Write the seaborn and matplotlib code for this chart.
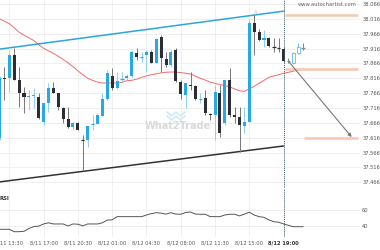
import numpy as np
import pandas as pd
import matplotlib
matplotlib.use("Agg")
import matplotlib.pyplot as plt
import seaborn as sns

# ---------------- data ----------------
opens = [37.615, 37.817, 37.817, 37.894, 37.810, 37.766, 37.753, 37.756, 37.753, 37.669,
         37.733, 37.783, 37.766, 37.716, 37.679, 37.652, 37.665, 37.608, 37.608, 37.660,
         37.662, 37.689, 37.746, 37.824, 37.783, 37.812, 37.817, 37.824, 37.901, 37.886,
         37.894, 37.904, 37.867, 37.955, 37.881, 37.861, 37.911, 37.803, 37.760, 37.793,
         37.790, 37.744, 37.750, 37.696, 37.692, 37.766, 37.665, 37.810, 37.692, 37.686,
         37.655, 37.669, 38.002, 37.972, 37.945, 37.951, 37.921, 37.918, 37.914, 37.874,
         37.867, 37.901, 37.918]
highs = [37.824, 37.854, 37.911, 37.918, 37.854, 37.787, 37.776, 37.783, 37.766, 37.736,
         37.800, 37.803, 37.766, 37.719, 37.719, 37.669, 37.669, 37.625, 37.655, 37.692,
         37.699, 37.766, 37.844, 37.851, 37.837, 37.837, 37.830, 37.911, 37.918, 37.904,
         37.911, 37.911, 37.951, 37.962, 37.904, 37.911, 37.918, 37.810, 37.800, 37.837,
         37.793, 37.766, 37.776, 37.699, 37.793, 37.793, 37.810, 37.851, 37.719, 37.719,
         37.719, 38.016, 38.029, 37.982, 37.978, 37.955, 37.951, 37.951, 37.921, 37.884,
         37.904, 37.935, 37.935]
lows = [37.608, 37.743, 37.770, 37.810, 37.719, 37.699, 37.709, 37.716, 37.679, 37.659,
        37.702, 37.766, 37.709, 37.665, 37.649, 37.642, 37.642, 37.507, 37.585, 37.642,
        37.662, 37.689, 37.743, 37.776, 37.780, 37.803, 37.810, 37.820, 37.877, 37.871,
        37.837, 37.867, 37.867, 37.837, 37.854, 37.854, 37.803, 37.746, 37.716, 37.776,
        37.743, 37.733, 37.692, 37.675, 37.608, 37.618, 37.659, 37.686, 37.665, 37.568,
        37.632, 37.669, 37.894, 37.941, 37.921, 37.921, 37.904, 37.904, 37.871, 37.867,
        37.864, 37.898, 37.911]
closes = [37.817, 37.813, 37.894, 37.810, 37.766, 37.753, 37.756, 37.760, 37.682, 37.733,
          37.783, 37.766, 37.719, 37.679, 37.652, 37.665, 37.642, 37.606, 37.655, 37.662,
          37.692, 37.746, 37.834, 37.783, 37.807, 37.813, 37.824, 37.904, 37.888, 37.888,
          37.904, 37.867, 37.948, 37.884, 37.861, 37.904, 37.807, 37.763, 37.800, 37.790,
          37.746, 37.746, 37.699, 37.692, 37.770, 37.632, 37.810, 37.692, 37.686, 37.659,
          37.669, 38.002, 37.972, 37.945, 37.951, 37.925, 37.920, 37.916, 37.874, 37.872,
          37.901, 37.921, 37.918]
ma = [38.016, 38.008, 38.000, 37.986, 37.971, 37.961, 37.952, 37.943, 37.929, 37.917,
      37.908, 37.900, 37.890, 37.879, 37.868, 37.855, 37.841, 37.828, 37.816, 37.809,
      37.803, 37.800, 37.800, 37.800, 37.800, 37.802, 37.808, 37.809, 37.813, 37.819,
      37.824, 37.828, 37.831, 37.834, 37.836, 37.837, 37.837, 37.835, 37.833, 37.830,
      37.823, 37.816, 37.810, 37.803, 37.799, 37.795, 37.791, 37.787, 37.780, 37.774,
      37.772, 37.780, 37.789, 37.799, 37.809, 37.819, 37.824, 37.828, 37.833, 37.836,
      37.840, 37.844, 37.847]
rsi = [36.4, 36.4, 36.4, 33.5, 33.5, 34.0, 37.3, 39.6, 40.2, 42.8,
       44.2, 42.8, 42.8, 42.8, 40.4, 42.8, 42.5, 40.5, 42.8, 42.8,
       42.8, 44.2, 47.5, 47.8, 51.6, 51.6, 51.6, 51.6, 51.6, 51.6,
       53.6, 55.2, 56.4, 55.8, 54.7, 56.4, 54.7, 54.5, 56.6, 57.2,
       54.7, 54.5, 54.5, 51.7, 51.6, 51.6, 53.6, 54.5, 54.5, 52.5,
       54.6, 57.0, 53.6, 51.6, 50.8, 47.7, 45.5, 44.9, 42.8, 41.1,
       39.5, 39.5, 39.5]

tick_idx = [2, 9, 16, 23, 30, 37, 44, 51, 58]
tick_labels = ["8/11 13:30", "8/11 17:00", "8/11 20:30", "8/12 01:00", "8/12 04:30",
               "8/12 08:00", "8/12 11:30", "8/12 15:00", "8/12 19:00"]
price_ticks = [37.466, 37.516, 37.566, 37.616, 37.666, 37.716, 37.766, 37.816,
               37.866, 37.916, 37.966, 38.016, 38.066]
rsi_ticks = [40, 60]

resistance_x = [0, 58]
resistance_y = [37.914, 38.042]
support_x = [0, 58]
support_y = [37.467, 37.588]
pattern_end = 58
levels = [38.029, 37.847]
target_level = 37.615
target_start = 62.1
arrow_from = (59.1, 37.871)
arrow_to = (71.9, 37.618)
marker_pos = (52.35, 38.039)

# ---------------- style ----------------
sns.set_theme(style="white")
plt.rcParams['font.family'] = ['DejaVu Sans']

BLUE = "#27a9e1"
DARK = "#2d2d35"
GRID = "#ededed"
LBL = "#555555"
FS = 3.7

fig = plt.figure(figsize=(3.8, 2.5), dpi=100)
fig.patch.set_facecolor("white")
W = 360 / 380
ax = fig.add_axes([0, 1 - 188 / 250, W, 188 / 250])
ax2 = fig.add_axes([0, 1 - 237 / 250, W, 48 / 250])

n = len(opens)
idx = np.arange(n)
df = pd.DataFrame({"i": idx, "o": opens, "h": highs, "l": lows, "c": closes,
                   "ma": ma, "rsi": rsi})

XMIN, XMAX = 0.1, 73.6
for a in (ax, ax2):
    a.set_facecolor("white")
    for s in a.spines.values():
        s.set_visible(False)
    a.set_xlim(XMIN, XMAX)
    a.set_xticks(tick_idx)
    for t in tick_idx:
        a.axvline(t, color=GRID, lw=0.6, zorder=0)

ax.set_ylim(37.4465, 38.0795)
ax.set_yticks(price_ticks)
ax.set_yticklabels([f"{p:.3f}" for p in price_ticks])
for p in price_ticks:
    ax.axhline(p, color=GRID, lw=0.6, zorder=0)
ax.yaxis.tick_right()
ax.tick_params(axis="y", length=0, pad=1.5, labelsize=FS, labelcolor=LBL)
ax.tick_params(axis="x", length=0, labelbottom=False)

# trend lines
ax.plot(resistance_x, resistance_y, color="#2aa6de", lw=1.1, zorder=3)
ax.plot(support_x, support_y, color="#333333", lw=1.1, zorder=3)

# moving average
sns.lineplot(data=df, x="i", y="ma", ax=ax, color="#f26b6b", lw=0.7, zorder=2, legend=False)

# candles
for r in df.itertuples():
    hollow = r.i > pattern_end
    up = r.c >= r.o
    bot = min(r.o, r.c)
    hgt = max(abs(r.c - r.o), 0.0035)
    if abs(r.c - r.o) < 0.0025:
        col, wcol = ("#888888", "#888888") if hollow else ((BLUE, "#8fd0ee") if up else (DARK, "#777777"))
        ax.vlines(r.i, r.l, r.h, color=wcol, lw=0.7, zorder=4)
        ax.hlines((r.o + r.c) / 2, r.i - 0.35, r.i + 0.35, color=col, lw=0.9, zorder=5)
        continue
    if hollow:
        ax.vlines(r.i, r.l, r.h, color="#6cc2ea", lw=0.7, zorder=4)
        ax.bar(r.i, hgt, bottom=bot, width=0.6, facecolor="white", edgecolor="#5bbde8",
               lw=0.6, zorder=5)
    else:
        col, wcol = (BLUE, "#8fd0ee") if up else (DARK, "#777777")
        ax.vlines(r.i, r.l, r.h, color=wcol, lw=0.7, zorder=4)
        ax.bar(r.i, hgt, bottom=bot, width=0.62, color=col, lw=0, zorder=5)

# pattern end & levels
ax.axvline(pattern_end, color="#3d6470", lw=0.7, ls=(0, (1, 1)), zorder=6)
ax2.axvline(pattern_end, color="#3d6470", lw=0.7, ls=(0, (1, 1)), zorder=6)
for lv in levels:
    ax.hlines(lv, pattern_end + 0.2, 73.2, color="#f9c6ae", lw=1.8, zorder=2)
ax.hlines(target_level, target_start, 73.2, color="#f9c6ae", lw=1.8, zorder=2)
ax.annotate("", xy=arrow_to, xytext=arrow_from,
            arrowprops=dict(arrowstyle="-|>", color="#777777", lw=0.8,
                            mutation_scale=5, shrinkA=0, shrinkB=0), zorder=7)
ax.text(marker_pos[0], marker_pos[1], "A", color="#f4a582", fontsize=3.6,
        ha="center", va="center", zorder=7)

# texts / watermark
ax.text(357 / 360, 0.975, "www.autochartist.com", transform=ax.transAxes, ha="right",
        va="center", fontsize=3.8, color="#666666")
ax.text(145 / 360, 1 - 126 / 188, "What2Trade", transform=ax.transAxes, ha="left",
        va="center", fontsize=7, color="#d9d9d9", fontweight="bold", zorder=1)
wx = np.array([0, 0.25, 0.5, 0.75, 1.0]) * 18 + 167
wy1 = np.array([0, 1, 0, 1, 0]) * 4 + 112
ax.plot(wx / 360, 1 - wy1 / 188, transform=ax.transAxes, color="#cfe9f7", lw=1.2, zorder=1)
ax.plot(wx / 360, 1 - (wy1 + 4) / 188, transform=ax.transAxes, color="#cfe9f7", lw=1.2, zorder=1)

# RSI panel
ax2.set_ylim(27.1, 84.9)
ax2.set_yticks(rsi_ticks)
ax2.set_yticklabels([str(t) for t in rsi_ticks])
for t in rsi_ticks:
    ax2.axhline(t, color=GRID, lw=0.6, zorder=0)
ax2.yaxis.tick_right()
ax2.tick_params(axis="y", length=0, pad=1.5, labelsize=FS, labelcolor=LBL)
sns.lineplot(data=df, x="i", y="rsi", ax=ax2, color="#555555", lw=0.7, legend=False)
ax2.set_xlabel("")
ax2.set_ylabel("")
ax.set_xlabel("")
ax.set_ylabel("")
ax2.text(-1 / 360, 1 - 9 / 48, "RSI", transform=ax2.transAxes, ha="left", va="center",
         fontsize=3.8, color="#333333", fontweight="bold")
ax2.set_xticklabels(tick_labels)
ax2.tick_params(axis="x", length=0, pad=2.5, labelsize=FS, labelcolor=LBL)
lbls = ax2.get_xticklabels()
lbls[-1].set_fontweight("bold")
lbls[-1].set_color("#333333")

fig.savefig("out.png", dpi=100, facecolor="white")
